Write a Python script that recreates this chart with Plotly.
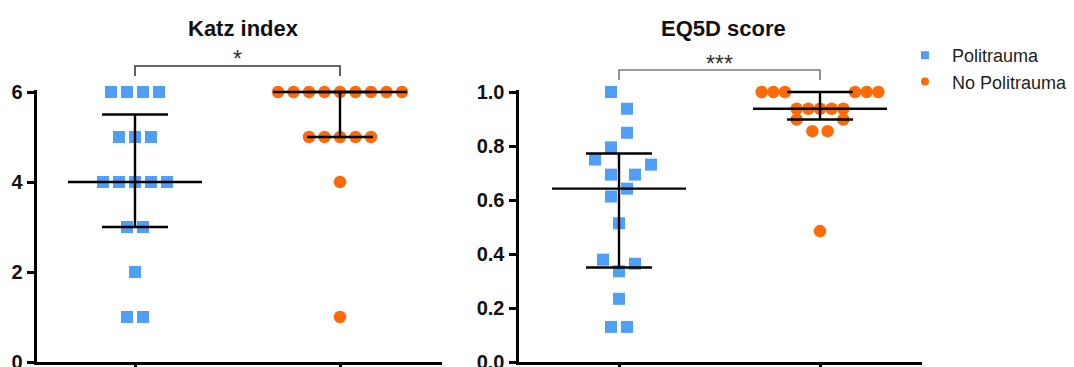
import numpy as np
import plotly.graph_objects as go

# ---------------------------------------------------------------- data
groups = ["Politrauma", "No Politrauma"]

katz_politrauma = [6, 6, 6, 6, 5, 5, 5, 4, 4, 4, 4, 4, 3, 3, 2, 1, 1]
katz_no_politrauma = [6, 6, 6, 6, 6, 6, 6, 6, 6, 5, 5, 5, 5, 5, 4, 1]

eq5d_politrauma = [1.000, 0.938, 0.849, 0.795, 0.750, 0.731, 0.694, 0.694,
                   0.642, 0.613, 0.514, 0.379, 0.364, 0.336, 0.234, 0.130, 0.130]
eq5d_no_politrauma = [1.000, 1.000, 1.000, 1.000, 1.000, 1.000,
                      0.938, 0.938, 0.938, 0.938, 0.938,
                      0.898, 0.898, 0.855, 0.855, 0.485]

katz_ticks = [0, 2, 4, 6]
eq5d_ticks = [0.0, 0.2, 0.4, 0.6, 0.8, 1.0]

katz_significance = "*"
eq5d_significance = "***"

# horizontal scatter slots (column-scatter layout), in marker-spacing units
eq5d_politrauma_slots = [-1, 1, 1, -1, -3, 4, -1, 2, 1, -1, 0, -2, 2, 0, 0, -1, 1]
eq5d_no_politrauma_slots = [-5, -4, -3, 3, 4, 5, -2, -1, 0, 1, 2, -2, 2, -0.65, 0.65, 0]

# ---------------------------------------------------------------- styling / layout
W, H = 1074, 367
BLUE = "#4F9FF7"
ORANGE = "#FF6A06"
FONT = "Liberation Sans, Arial, sans-serif"

TOP_PX, BOTTOM_PX = 92.0, 362.0        # pixel rows of the top tick and of y = 0
PAD_PX = 2.3                           # headroom above the top tick
panels = {
    # left px of plot area, right px, px of group 0, px of group 1
    "katz": dict(l=36.5, r=442.0, c0=135.0, c1=340.0),
    "eq5d": dict(l=518.5, r=922.0, c0=619.0, c1=820.0),
}


def px_to_paper_y(py):
    return (H - py) / H


def x_range(p):
    scale = p["c1"] - p["c0"]
    return [-(p["c0"] - p["l"]) / scale, (p["r"] - p["c0"]) / scale], scale


def y_range(top_value):
    per_unit = (BOTTOM_PX - TOP_PX) / top_value
    return [0, top_value + PAD_PX / per_unit]


def row_offsets(values, spacing_px, scale):
    """Centre each run of equal values in a horizontal row."""
    vals = np.asarray(values, dtype=float)
    off = np.zeros(len(vals))
    for v in np.unique(vals):
        idx = np.where(vals == v)[0]
        n = len(idx)
        off[idx] = (np.arange(n) - (n - 1) / 2) * spacing_px / scale
    return off


def summary_lines(values, center, scale, median_half_px=67, cap_half_px=33):
    q1, med, q3 = np.percentile(values, [25, 50, 75], method="weibull")
    hw = median_half_px / scale
    cw = cap_half_px / scale
    xs = [center, center, None,
          center - hw, center + hw, None,
          center - cw, center + cw, None,
          center - cw, center + cw]
    ys = [q1, q3, None, med, med, None, q1, q1, None, q3, q3]
    return xs, ys


fig = go.Figure()

katz_xr, katz_scale = x_range(panels["katz"])
eq5d_xr, eq5d_scale = x_range(panels["eq5d"])

series = [
    # values, group index, axes, symbol, colour, x offsets
    (katz_politrauma, 0, ("x", "y"), "square", BLUE,
     row_offsets(katz_politrauma, 16, katz_scale)),
    (katz_no_politrauma, 1, ("x", "y"), "circle", ORANGE,
     row_offsets(katz_no_politrauma, 15.5, katz_scale)),
    (eq5d_politrauma, 0, ("x2", "y2"), "square", BLUE,
     np.array(eq5d_politrauma_slots) * 8.0 / eq5d_scale),
    (eq5d_no_politrauma, 1, ("x2", "y2"), "circle", ORANGE,
     np.array(eq5d_no_politrauma_slots) * 11.67 / eq5d_scale),
]

# points
for vals, g, (xa, ya), sym, col, off in series:
    fig.add_trace(go.Scatter(
        x=g + off, y=vals, mode="markers", xaxis=xa, yaxis=ya,
        marker=dict(symbol=sym, size=12.5 if sym == "circle" else 12, color=col,
                    line=dict(width=0)),
        cliponaxis=False, showlegend=False, hoverinfo="y",
    ))

# median with interquartile range
for vals, g, (xa, ya), sym, col, off in series:
    scale = katz_scale if xa == "x" else eq5d_scale
    xs, ys = summary_lines(vals, g, scale)
    fig.add_trace(go.Scatter(
        x=xs, y=ys, mode="lines", xaxis=xa, yaxis=ya,
        line=dict(color="black", width=2.4), showlegend=False, hoverinfo="skip",
    ))

# legend entries
for name, sym, col in [(groups[0], "square", BLUE), (groups[1], "circle", ORANGE)]:
    fig.add_trace(go.Scatter(
        x=[None], y=[None], mode="markers", name=name,
        marker=dict(symbol=sym, size=8, color=col),
    ))

y_dom = [px_to_paper_y(BOTTOM_PX), px_to_paper_y(TOP_PX - PAD_PX)]

axis_common = dict(
    showline=True, linecolor="black", linewidth=3,
    ticks="outside", ticklen=7, tickwidth=2.5, tickcolor="black",
    showgrid=False, zeroline=False, automargin=False,
)
tickfont = dict(family=FONT, size=20, color="#111111", weight="bold")

fig.update_layout(
    width=W, height=H,
    margin=dict(l=0, r=0, t=0, b=0, autoexpand=False),
    template="none",
    paper_bgcolor="white", plot_bgcolor="white",
    xaxis=dict(domain=[panels["katz"]["l"] / W, panels["katz"]["r"] / W],
               range=katz_xr, tickvals=[0, 1], showticklabels=False,
               anchor="y", **axis_common),
    yaxis=dict(domain=y_dom, range=y_range(max(katz_ticks)), tickvals=katz_ticks,
               tickfont=tickfont, ticklabeloverflow="allow", anchor="x", **axis_common),
    xaxis2=dict(domain=[panels["eq5d"]["l"] / W, panels["eq5d"]["r"] / W],
                range=eq5d_xr, tickvals=[0, 1], showticklabels=False,
                anchor="y2", **axis_common),
    yaxis2=dict(domain=y_dom, range=y_range(max(eq5d_ticks)), tickvals=eq5d_ticks,
                tickformat=".1f", tickfont=tickfont, ticklabeloverflow="allow",
                anchor="x2", **axis_common),
    legend=dict(x=898 / W, y=px_to_paper_y(37), xanchor="left", yanchor="top",
                font=dict(family=FONT, size=18, color="#222222"),
                itemwidth=44, bgcolor="rgba(0,0,0,0)", borderwidth=0),
    showlegend=True,
)

# panel titles
for text, cx in [("Katz index", 243), ("EQ5D score", 723)]:
    fig.add_annotation(text=text, x=cx / W, y=px_to_paper_y(28), xref="paper",
                       yref="paper", showarrow=False, xanchor="center", yanchor="middle",
                       font=dict(family=FONT, size=22, color="#111111", weight="bold"))

# significance brackets between the two groups
for xref, top_px, leg_px, colour, label, star_px in [
        ("x", 66, 76, "#3a3a3a", katz_significance, 59),
        ("x2", 70, 80, "#7a7a7a", eq5d_significance, 64)]:
    yt, yl = px_to_paper_y(top_px), px_to_paper_y(leg_px)
    fig.add_shape(type="path", xref=xref, yref="paper",
                  path=f"M 0,{yl} L 0,{yt} L 1,{yt} L 1,{yl}",
                  line=dict(color=colour, width=1.6))
    fig.add_annotation(text=label, x=0.5, y=px_to_paper_y(star_px), xref=xref,
                       yref="paper", showarrow=False, xanchor="center", yanchor="middle",
                       font=dict(family=FONT, size=23, color="#333333"))

fig.write_html("out.html")
